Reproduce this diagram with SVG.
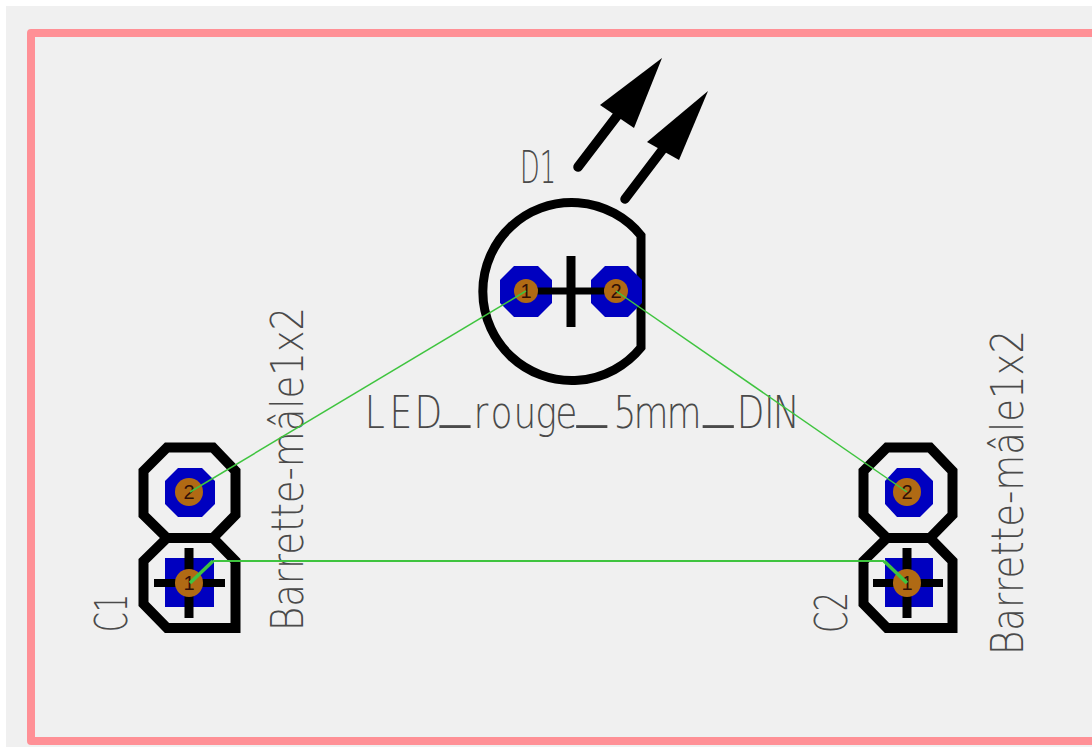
<svg xmlns="http://www.w3.org/2000/svg" width="1092" height="747" viewBox="0 0 1092 747">
<style>
.sil{fill:none;stroke:#000;stroke-linejoin:miter}
.bar{stroke:#000;fill:none;stroke-linecap:butt}
.pad{fill:#0000c0}
.hole{fill:#b06a14}
.num{font-family:"Liberation Sans",sans-serif;font-size:20px;fill:#301008;text-anchor:middle}
.lab{font-family:"DejaVu Sans",sans-serif;font-weight:200;font-size:45px;fill:#4a4a4a}
.air{fill:none;stroke:#3fc43f}
</style>
<rect width="1092" height="747" fill="#fff"/>
<rect x="6" y="6" width="1086" height="741" fill="#f0f0f0"/>
<path d="M1092 33H31V741H1092" fill="none" stroke="#ff9096" stroke-width="8" stroke-linejoin="round"/>

<g id="D1">
<path class="sil" stroke-width="9" d="M641 235.500A89 89 0 1 0 641 347.500Z"/>
<path fill="#000" d="M662 58L634 128L600 105Z"/>
<path d="M578 167L620 112" stroke="#000" stroke-width="9.500" stroke-linecap="round" fill="none"/>
<path fill="#000" d="M708 91L679 160L647 142Z"/>
<path d="M625 199L666 145" stroke="#000" stroke-width="9.500" stroke-linecap="round" fill="none"/>
<path class="pad" d="M514 266H538L552 280V303L538 317H514L500 303V280Z"/>
<path class="pad" d="M605 266H628L642 280V303L628 317H605L591 303V280Z"/>
<path class="bar" stroke-width="7" d="M526 291H616"/>
<path class="bar" stroke-width="9" d="M571 256V327"/>
<circle class="hole" cx="526" cy="291" r="12"/>
<circle class="hole" cx="616" cy="291" r="12"/>
<text class="num" x="526" y="298">1</text>
<text class="num" x="616" y="298">2</text>
<text class="lab" transform="translate(520 183)" textLength="36" lengthAdjust="spacingAndGlyphs">D1</text>
<text class="lab" transform="translate(0 428) scale(.8 1)"><tspan x="456 487 518">LED</tspan><tspan font-size="75" dy="-18" x="550">_</tspan><tspan dy="18" x="592 613 642 669 694">rouge</tspan><tspan font-size="75" dy="-18" x="721">_</tspan><tspan dy="18" x="767 792 833">5mm</tspan><tspan font-size="75" dy="-18" x="879">_</tspan><tspan dy="18" x="921 955 966">DIN</tspan></text>
</g>

<g id="C1">
<path class="sil" stroke-width="10" d="M167 447.500H213L235.500 471V515L213 538H167L143.500 515V471Z"/>
<path class="sil" stroke-width="10" d="M167 538H213L235.500 561V628H167L143.500 604V561Z"/>
<path class="pad" d="M178 468H202L215 481V504L202 517H178L165 504V481Z"/>
<rect class="pad" x="165" y="558" width="49" height="49"/>
<path class="bar" stroke-width="8" d="M154 583H225"/>
<path class="bar" stroke-width="9" d="M189 548V618"/>
<circle class="hole" cx="189" cy="492" r="14"/>
<circle class="hole" cx="189" cy="583" r="14"/>
<text class="num" x="189" y="499">2</text>
<text class="num" x="189" y="590">1</text>
<text class="lab" transform="translate(127 632) rotate(-90)" textLength="38" lengthAdjust="spacingAndGlyphs">C1</text>
<text class="lab" transform="translate(303 631) rotate(-90)" textLength="324" lengthAdjust="spacingAndGlyphs">Barrette-mâle1x2</text>
</g>

<g id="C2">
<path class="sil" stroke-width="10" d="M887 447.500H930L952.500 471V515L930 538H887L863.500 515V471Z"/>
<path class="sil" stroke-width="10" d="M887 538H930L952.500 561V628H887L863.500 604V561Z"/>
<path class="pad" d="M897 468H920L933 481V504L920 517H897L885 504V481Z"/>
<rect class="pad" x="885" y="558" width="48" height="49"/>
<path class="bar" stroke-width="8" d="M873 583H943"/>
<path class="bar" stroke-width="9" d="M907 548V618"/>
<circle class="hole" cx="907" cy="492" r="14"/>
<circle class="hole" cx="907" cy="583" r="14"/>
<text class="num" x="907" y="499">2</text>
<text class="num" x="907" y="590">1</text>
<text class="lab" transform="translate(847 633) rotate(-90)" textLength="41" lengthAdjust="spacingAndGlyphs">C2</text>
<text class="lab" transform="translate(1023 655) rotate(-90)" textLength="325" lengthAdjust="spacingAndGlyphs">Barrette-mâle1x2</text>
</g>

<g id="connectors">
<path class="air" stroke-width="1.500" d="M526 291L190 492"/>
<path class="air" stroke-width="1.500" d="M616 291L907 492"/>
<path class="air" stroke-width="2" d="M213 561H884"/>
<path class="air" stroke-width="3.500" d="M190 583L213 561"/>
<path class="air" stroke-width="3.500" d="M884 561L907 583"/>
</g>
</svg>
